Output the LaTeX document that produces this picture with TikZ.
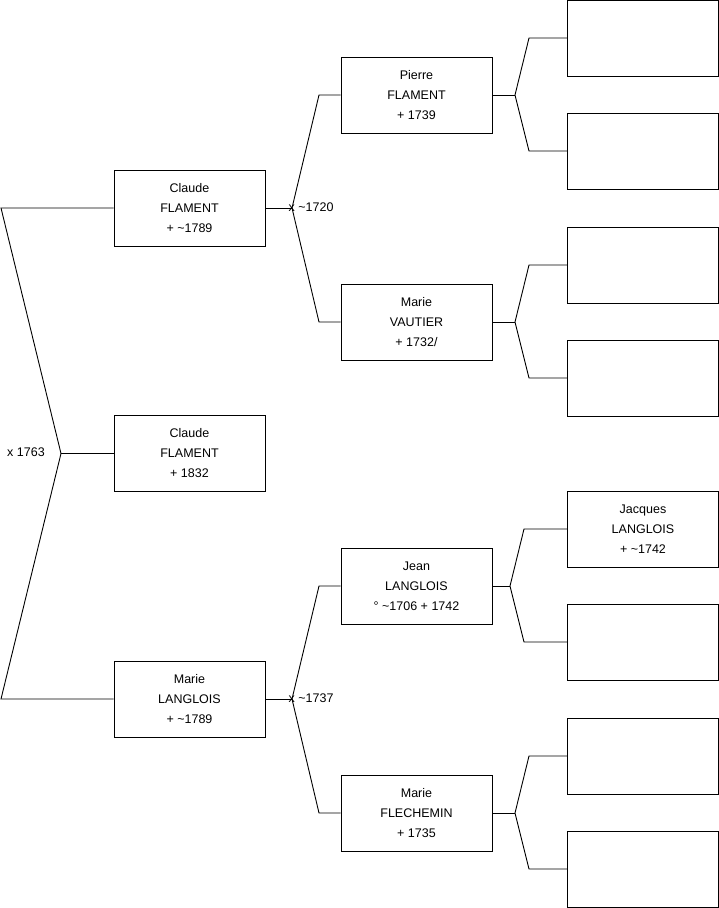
\documentclass[tikz,border=0pt]{standalone}
\usepackage{fontspec}
\setmainfont{Liberation Sans}
\begin{document}
\begin{tikzpicture}[x=1pt,y=-1pt,
  person/.style={draw=black, line width=0.9pt, minimum width=151pt, minimum height=76pt, inner sep=0pt, align=center, font=\fontsize{12.5}{20}\selectfont},
  conn/.style={draw=black, line width=0.9pt},
  lbl/.style={anchor=west, inner sep=0pt, font=\fontsize{12.5}{15}\selectfont}]
\useasboundingbox (0,0) rectangle (719,908);
% generation 1
\node[person] (c1) at (189.5,453.5) {Claude\\FLAMENT\\+ 1832};
% generation 2
\node[person] (c2) at (189.5,208) {Claude\\FLAMENT\\+ \textasciitilde1789};
\node[person] (c3) at (189.5,699) {Marie\\LANGLOIS\\+ \textasciitilde1789};
% generation 3
\node[person] (p1) at (416.5,95) {Pierre\\FLAMENT\\+ 1739};
\node[person] (p2) at (416.5,322) {Marie\\VAUTIER\\+ 1732/};
\node[person] (p3) at (416.5,586) {Jean\\LANGLOIS\\° \textasciitilde1706 + 1742};
\node[person] (p4) at (416.5,813) {Marie\\FLECHEMIN\\+ 1735};
% generation 4
\node[person] (g1) at (643,38) {};
\node[person] (g2) at (643,151) {};
\node[person] (g3) at (643,265) {};
\node[person] (g4) at (643,378) {};
\node[person] (g5) at (643,529) {Jacques\\LANGLOIS\\+ \textasciitilde1742};
\node[person] (g6) at (643,642) {};
\node[person] (g7) at (643,756) {};
\node[person] (g8) at (643,869) {};
% fork generation 1 -> 2
\coordinate (a1) at (1,208);
\coordinate (j0) at (61,453.5);
\coordinate (a2) at (1,699);
\path[conn] (c2.west) -- (a1) -- (j0) -- (a2) -- (c3.west);
\path[conn] (j0) -- (c1.west);
\node[lbl] (m0) at (7,452) {x 1763};
% fork generation 2 -> 3
\coordinate (j1) at (292,208);
\coordinate (b1) at (319,95);
\coordinate (b2) at (319,322);
\path[conn] (c2.east) -- (j1);
\path[conn] (p1.west) -- (b1) -- (j1) -- (b2) -- (p2.west);
\node[lbl] (m1) at (288.5,207) {x \textasciitilde1720};
\coordinate (j2) at (292,699);
\coordinate (b3) at (319,586);
\coordinate (b4) at (319,813);
\path[conn] (c3.east) -- (j2);
\path[conn] (p3.west) -- (b3) -- (j2) -- (b4) -- (p4.west);
\node[lbl] (m2) at (288.5,698) {x \textasciitilde1737};
% forks generation 3 -> 4
\coordinate (k1) at (515,95);
\coordinate (d1) at (529,38);
\coordinate (d2) at (529,151);
\path[conn] (p1.east) -- (k1);
\path[conn] (g1.west) -- (d1) -- (k1) -- (d2) -- (g2.west);
\coordinate (k2) at (515,322);
\coordinate (d3) at (529,265);
\coordinate (d4) at (529,378);
\path[conn] (p2.east) -- (k2);
\path[conn] (g3.west) -- (d3) -- (k2) -- (d4) -- (g4.west);
\coordinate (k3) at (510,586);
\coordinate (d5) at (524,529);
\coordinate (d6) at (524,642);
\path[conn] (p3.east) -- (k3);
\path[conn] (g5.west) -- (d5) -- (k3) -- (d6) -- (g6.west);
\coordinate (k4) at (515,813);
\coordinate (d7) at (529,756);
\coordinate (d8) at (529,869);
\path[conn] (p4.east) -- (k4);
\path[conn] (g7.west) -- (d7) -- (k4) -- (d8) -- (g8.west);
\end{tikzpicture}
\end{document}
